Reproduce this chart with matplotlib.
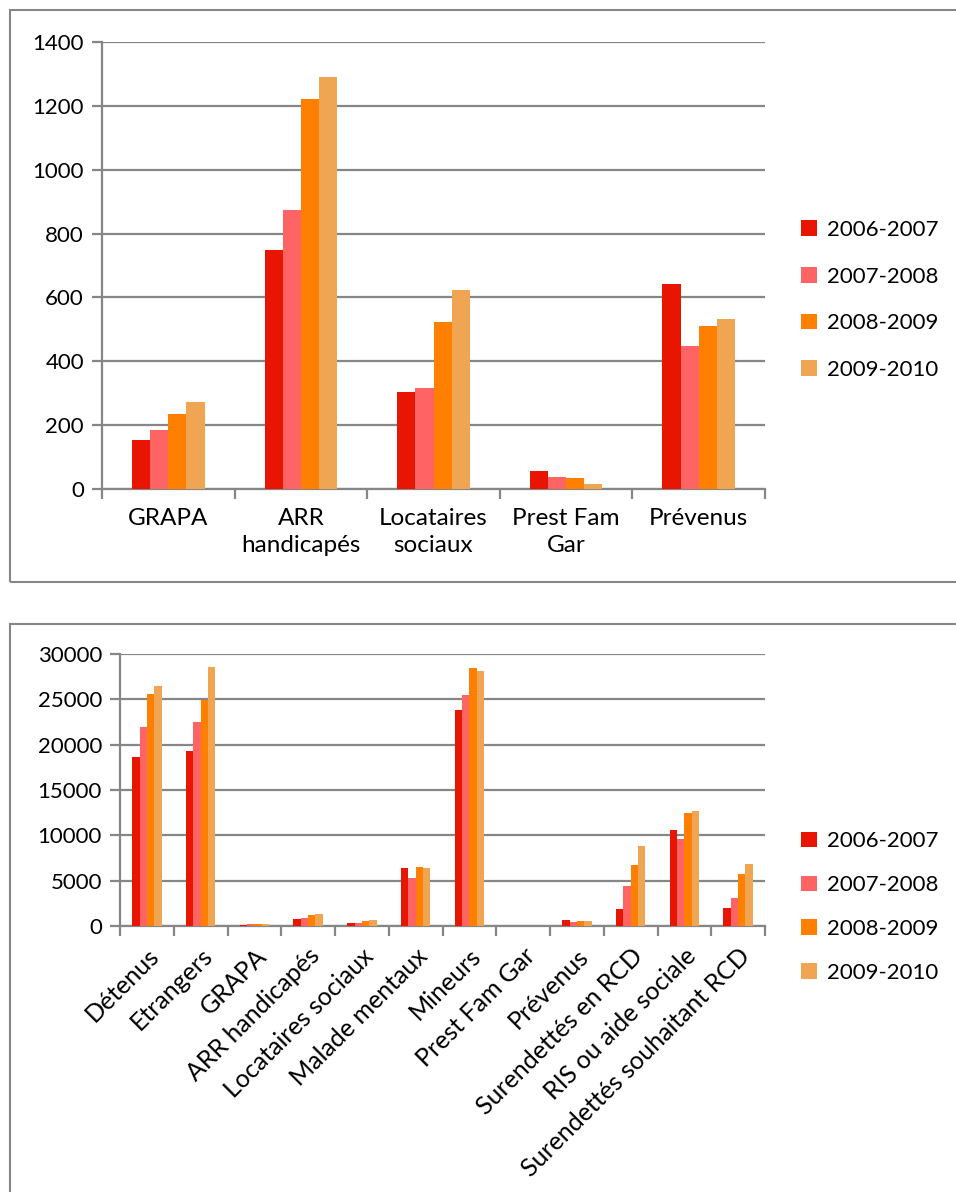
import numpy as np
import matplotlib
matplotlib.use("Agg")
import matplotlib.pyplot as plt
from matplotlib.patches import Rectangle

plt.rcParams["font.family"] = ["Lato", "DejaVu Sans"]

series = ["2006-2007", "2007-2008", "2008-2009", "2009-2010"]
colors = ["#E81500", "#FF6464", "#FF8000", "#F0A552"]

# top chart
top_cats = ["GRAPA", "ARR\nhandicapés", "Locataires\nsociaux", "Prest Fam\nGar", "Prévenus"]
top_vals = [
    [152, 750, 305, 55, 642],
    [184, 873, 315, 39, 447],
    [234, 1222, 522, 36, 510],
    [271, 1291, 624, 17, 532],
]

# bottom chart
bot_cats = ["Détenus", "Etrangers", "GRAPA", "ARR handicapés", "Locataires sociaux",
            "Malade mentaux", "Mineurs", "Prest Fam Gar", "Prévenus",
            "Surendettés en RCD", "RIS ou aide sociale", "Surendettés souhaitant RCD"]
bot_vals = [
    [18600, 19300, 152, 750, 305, 6420, 23770, 55, 642, 1900, 10600, 1950],
    [21900, 22520, 184, 873, 315, 5250, 25460, 39, 447, 4440, 9610, 3050],
    [25600, 24950, 234, 1222, 522, 6530, 28470, 36, 510, 6680, 12510, 5760],
    [26520, 28540, 271, 1291, 624, 6420, 28140, 17, 532, 8800, 12690, 6790],
]

grey = "#868686"
W, H = 956, 1192
fig = plt.figure(figsize=(W / 100, H / 100), dpi=100)

# chart frames
fig.patches.append(Rectangle((10 / W, 1 - 582 / H), 1.2, 572 / H, transform=fig.transFigure,
                             fill=False, edgecolor=grey, lw=1.5))
fig.patches.append(Rectangle((10 / W, -0.1), 1.2, 1 - 624 / H + 0.1, transform=fig.transFigure,
                             fill=False, edgecolor=grey, lw=1.5))

FS = 16


def draw(ax, cats, vals, ymax, step, rot, leg_y, leg_sp):
    x = np.arange(len(cats))
    bw = 0.137
    for i, (name, v) in enumerate(zip(series, vals)):
        ax.bar(x + (i - 1.5) * bw, v, bw, color=colors[i], label=name, zorder=3)
    ax.set_xlim(-0.5, len(cats) - 0.5)
    ax.set_ylim(0, ymax)
    ax.set_yticks(np.arange(0, ymax + 1, step))
    ax.yaxis.grid(True, color=grey, lw=1.6, zorder=0)
    ax.set_axisbelow(True)
    for s in ["top", "right"]:
        ax.spines[s].set_visible(False)
    for s in ["left", "bottom"]:
        ax.spines[s].set_color(grey)
        ax.spines[s].set_linewidth(1.6)
    ax.set_xticks(np.arange(len(cats) + 1) - 0.5, minor=False)
    ax.set_xticklabels([])
    ax.set_xticks(x, minor=True)
    if rot:
        ax.set_xticklabels(cats, minor=True, rotation=45, ha="right", rotation_mode="anchor")
        ax.tick_params(axis="x", which="minor", length=0, labelsize=18, pad=13)
    else:
        ax.set_xticklabels(cats, minor=True, linespacing=1.3)
        ax.tick_params(axis="x", which="minor", length=0, labelsize=17.5, pad=14)
    ax.tick_params(axis="x", which="major", length=7, width=1.6, color=grey)
    ax.tick_params(axis="y", length=7, width=1.6, color=grey, labelsize=FS, pad=6)
    h, l = ax.get_legend_handles_labels()
    fig.legend(h, l, loc="center left", bbox_to_anchor=(801 / W, 1 - leg_y / H), frameon=False,
               fontsize=FS, handlelength=0.7, handleheight=0.7, handletextpad=0.45,
               labelspacing=leg_sp, borderpad=0, borderaxespad=0)


ax1 = fig.add_axes([102 / W, 1 - 489 / H, 663 / W, 447 / H])
draw(ax1, top_cats, top_vals, 1400, 200, False, 300, 1.2)

ax2 = fig.add_axes([120 / W, 1 - 926 / H, 645 / W, 272 / H])
draw(ax2, bot_cats, bot_vals, 30000, 5000, True, 907, 1.07)

fig.savefig("out.png", dpi=100)
